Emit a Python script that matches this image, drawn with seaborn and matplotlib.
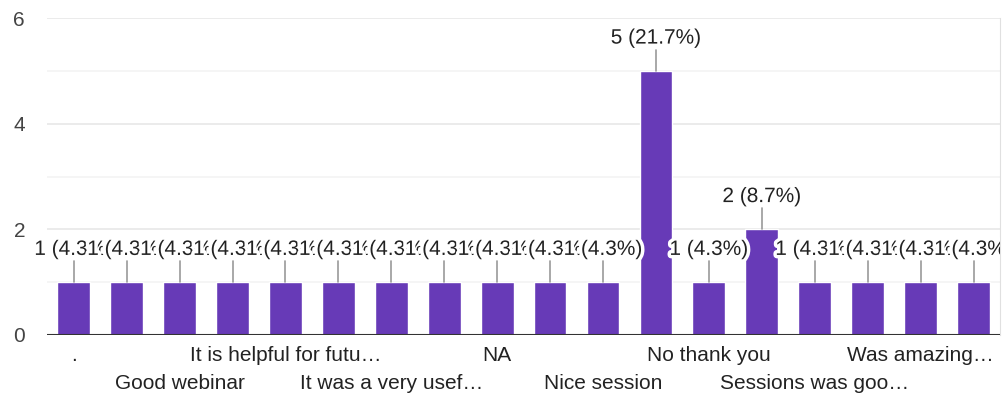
import numpy as np
import pandas as pd
import seaborn as sns
import matplotlib.pyplot as plt
from matplotlib import patheffects as pe
from matplotlib.transforms import Bbox, TransformedBbox

sns.set_style('white')
plt.rcParams['font.family'] = ['Liberation Sans', 'DejaVu Sans']

# Responses (only every other category name is shown on the axis)
tick_labels = ['.', '', 'Good webinar', '', 'It is helpful for futu…', '',
               'It was a very usef…', '', 'NA', '', 'Nice session', '',
               'No thank you', '', 'Sessions was goo…', '', 'Was amazing…', '']
counts = [1, 1, 1, 1, 1, 1, 1, 1, 1, 1, 1, 5, 1, 2, 1, 1, 1, 1]
total = 23

df = pd.DataFrame({'pos': np.arange(len(counts)), 'count': counts})

fig = plt.figure(figsize=(10.06, 4.0), dpi=100)
ax = fig.add_axes([0.047, 0.1625, 0.947, 0.7925])

sns.barplot(data=df, x='pos', y='count', color='#673ab7', saturation=1,
            width=0.62, ax=ax, zorder=3)

ax.set_ylim(0, 6)
ax.set_xlim(-0.5, len(counts) - 0.5)

# grid lines
for yv in [1, 3, 5]:
    ax.axhline(yv, color='#f3f3f3', lw=1.2, zorder=0)
for yv in [2, 4, 6]:
    ax.axhline(yv, color='#e8e8e8', lw=1.2, zorder=0)
ax.axhline(0, color='#333333', lw=1.5, zorder=4)

# labels are cut only at the right edge of the plot
clip = TransformedBbox(Bbox([[0, 0], [0.994, 1]]), fig.transFigure)

# value labels with leader lines
for i, v in enumerate(counts):
    ax.plot([i, i], [v, v + 0.4], color='#999999', lw=1.2, zorder=4)
    t = ax.text(i, v + 0.62, f'{v} ({v / total * 100:.1f}%)', ha='center', va='center',
                fontsize=15, color='#222222', zorder=5,
                path_effects=[pe.withStroke(linewidth=5, foreground='white')])
    t.set_clip_box(clip)
    t.set_clip_on(True)

ax.set_yticks([0, 2, 4, 6])
ax.tick_params(axis='y', length=0, labelsize=15, labelcolor='#444444', pad=16)
ax.set_xticks(np.arange(len(counts)))
ax.set_xticklabels(tick_labels, fontsize=15, color='#222222')
ax.tick_params(axis='x', length=0)
for k, tk in enumerate(ax.xaxis.get_major_ticks()):
    tk.set_pad(8 if k % 4 == 0 else 28)

ax.set_xlabel('')
ax.set_ylabel('')
for s in ['top', 'left', 'bottom']:
    ax.spines[s].set_visible(False)
ax.spines['right'].set_color('#e0e0e0')

fig.savefig('out.png', dpi=100)
